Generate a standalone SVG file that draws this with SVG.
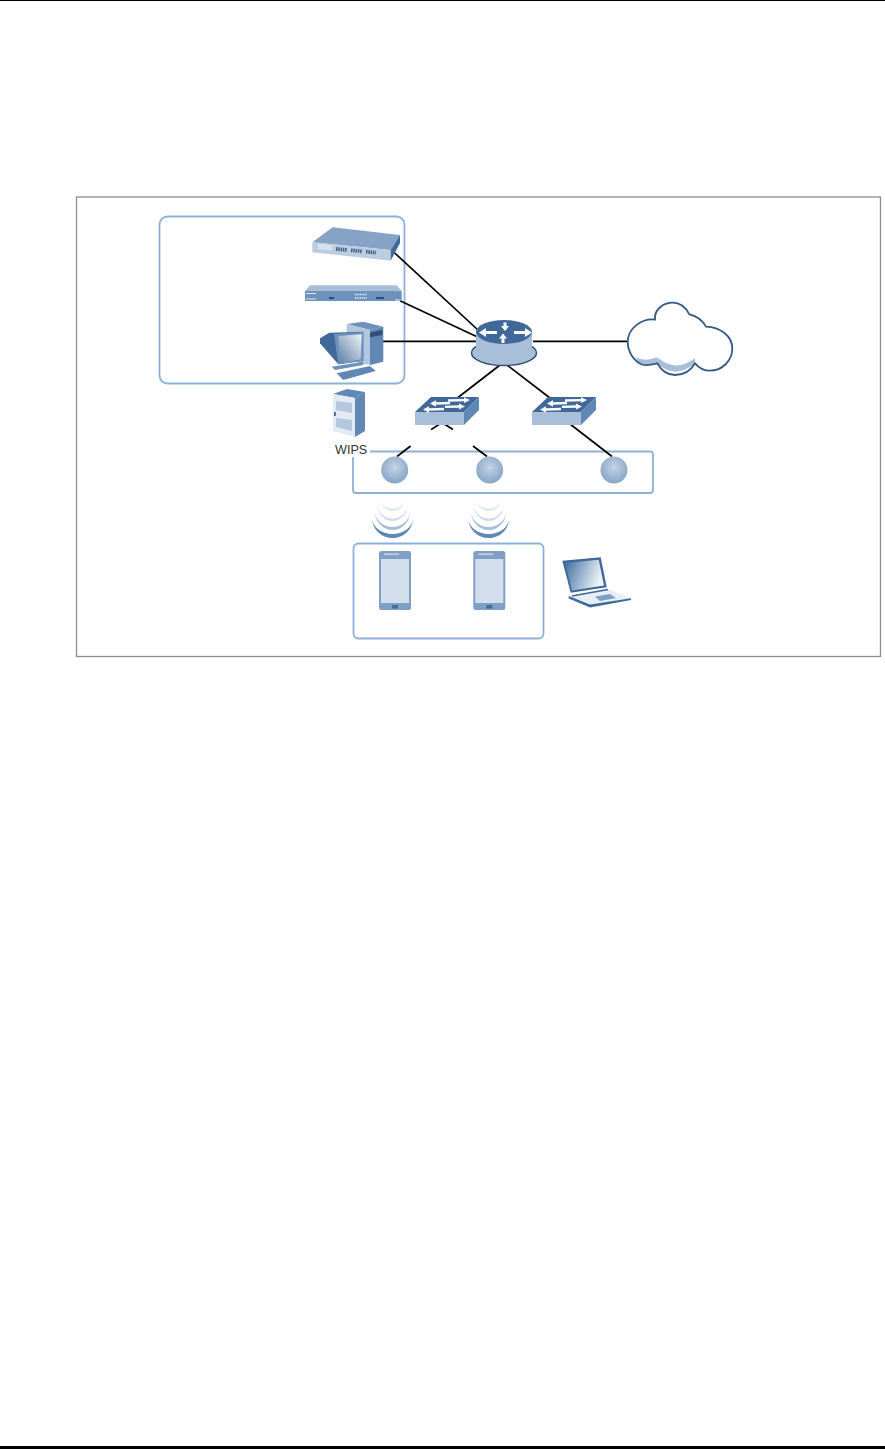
<svg xmlns="http://www.w3.org/2000/svg" width="885" height="1449" viewBox="0 0 885 1449">
<style>
.grp{fill:none;stroke:#8db0d9;stroke-width:1.800}
.lnk{stroke:#000;stroke-width:1.700;fill:none}
.d{fill:#41699a}.m{fill:#5f88b5}.l{fill:#a9bfd9}
.ph{fill:#7f9fc4}.sc{fill:#d3deec}
.ic{filter:url(#soft)}
</style>
<defs>
<filter id="soft" x="-5%" y="-5%" width="110%" height="110%"><feGaussianBlur stdDeviation="0.4"/></filter>
<linearGradient id="scr" x1="0" y1="1" x2="1" y2="0"><stop offset="0" stop-color="#5d7fa6"/><stop offset="1" stop-color="#eef3f8"/></linearGradient>
<linearGradient id="lap" x1="0" y1="0" x2="1" y2="0.3"><stop offset="0" stop-color="#3f6c9e"/><stop offset="1" stop-color="#eef3f8"/></linearGradient>
<radialGradient id="ball" cx="0.5" cy="0.4" r="0.6"><stop offset="0" stop-color="#c3d2e3"/><stop offset="1" stop-color="#86a5c6"/></radialGradient>
<g id="wifi" fill="#5f88b5">
<path d="M-12 -30A12 11 0 0 0 12 -30A12 8.500 0 0 1 -12 -30Z" opacity=".18"/>
<path d="M-15.500 -27A15.500 18 0 0 0 15.500 -27A15.500 15.500 0 0 1 -15.500 -27Z" opacity=".3"/>
<path d="M-18 -20A18 20 0 0 0 18 -20A18 17 0 0 1 -18 -20Z" opacity=".55"/>
<path d="M-20.500 -12A20.500 20 0 0 0 20.500 -12A20.500 16 0 0 1 -20.500 -12Z"/>
</g>
<g id="phone">
<rect width="32" height="59" rx="2.500" class="ph"/>
<rect x="2" y="8" width="28" height="44" class="sc"/>
<rect x="13" y="54" width="6" height="3.500" fill="#3f6c9e"/>
<rect x="5" y="2.500" width="15" height="1.300" fill="#d3deec"/>
</g>
<g id="ap"><circle r="13.500" fill="url(#ball)"/><circle cy="-2" r="0.800" fill="#e8eef5"/></g>
<g id="sw">
<polygon points="0,15 16,0 64,0 49,15" class="d"/>
<rect y="15" width="49" height="13" class="l"/>
<polygon points="49,15 64,0 64,13 49,28" class="m"/>
<g fill="#fff">
<polygon points="15,6.500 21,3.300 21,5.300 35,4.800 35,7.200 21,7.700 21,9.700"/>
<polygon points="55,3 49,0.200 49,1.900 33,2.300 33,4.700 49,4.300 49,6.100"/>
<polygon points="8,12.500 14,9.300 14,11.300 29,10.800 29,13.200 14,13.700 14,15.700"/>
<polygon points="50,9.500 44,6.500 44,8.300 30,8.700 30,11.100 44,10.700 44,12.500"/>
</g>
</g>
</defs>
<rect width="885" height="1449" fill="#fff"/>
<rect x="0" y="0" width="885" height="1" fill="#000"/>
<rect x="0" y="1446" width="885" height="3" fill="#000"/>
<rect id="frame" x="76.500" y="197" width="804" height="459.500" fill="none" stroke="#8f8f8f" stroke-width="1.300"/>

<g id="group-boxes">
<rect class="grp" x="159.500" y="216.500" width="245" height="167" rx="8"/>
<path class="grp" d="M370 451.500H650a3 3 0 0 1 3 3V490a3 3 0 0 1 -3 3H356a3 3 0 0 1 -3 -3V457"/>
<rect class="grp" x="353.500" y="543.500" width="190" height="95" rx="5"/>
</g>

<g id="connectors">
<path class="lnk" d="M391.500 250L478 330"/>
<path class="lnk" d="M400 300.700L477 336.700"/>
<path class="lnk" d="M383 341.300H477"/>
<path class="lnk" d="M533 341.300H628"/>
<path class="lnk" d="M500 365L458 397.500"/>
<path class="lnk" d="M507 365L550 398"/>
<path class="lnk" d="M570 424L612 456.500"/>
<path class="lnk" d="M431 429.600L439 424.500"/>
<path class="lnk" d="M445 424.500L453 429.500"/>
<path class="lnk" d="M410.600 446L397 456.500"/>
<path class="lnk" d="M473 446L487 456.500"/>
</g>

<g id="switch-a" class="ic">
<polygon points="312.300,242.300 332.700,227.300 400,235 390.700,250" fill="#86a3c6"/>
<polygon points="312.300,242.300 390.700,250 390.700,260.700 312.300,252.300" fill="#bccde0"/>
<polygon points="390.700,250 400,235 400,243 390.700,260.700" fill="#41699a"/>
<path d="M336 249l11 1M351 250.300l11 1M366 251.700l10 1" stroke="#3f5f88" stroke-width="3.800" stroke-dasharray="1.500 .8" fill="none"/>
<path d="M318 246.500l14 1.300" stroke="#d9e3ef" stroke-width="5" fill="none"/>
</g>
<g id="switch-b" class="ic">
<polygon points="305,291 310,285.300 396.700,285.300 401.700,291" fill="#a9bfd9"/>
<rect x="305" y="291" width="96.700" height="10" fill="#6d92bb"/>
<path d="M355 294.500h12M355 298h12" stroke="#dfe8f2" stroke-width="1.600" stroke-dasharray="1.500 .8"/>
<path d="M329 298h5M376 298h8" stroke="#2f4f78" stroke-width="2"/>
<path d="M306 293.500h10M306 299h10M395 300h5" stroke="#dfe8f2" stroke-width="1"/>
</g>
<g id="pc" class="ic">
<polygon points="346.700,324 363.300,321.700 383.300,326.700 370,330" fill="#6d92bb"/>
<polygon points="346.700,324 370,330 370,365 346.700,360" fill="#b4c7de"/>
<polygon points="370,330 383.300,326.700 383.300,361.700 370,365" fill="#5f88b5"/>
<polygon points="370,332.700 382.300,330 382.300,335 370,337.300" fill="#2f4f78"/>
<polygon points="320,338.300 329.300,332.700 363.300,331.700 363.300,360.700 338.300,364.300 320,343.300" fill="#41699a"/>
<polygon points="334,334 363.300,332 363.300,361 338.300,364.300" fill="#6d92bb"/>
<polygon points="338.300,336 361.700,334.300 360.700,359.300 340,363.300" fill="url(#scr)"/>
<polygon points="331.700,366.700 363.300,361.700 363.300,365 335,370" fill="#6d92bb"/>
<polygon points="336.700,373.300 370,366 375.700,371 343.300,380" fill="#5f88b5"/>
</g>
<g id="wips" class="ic">
<polygon points="333,394 347,389 365,392 355,398" fill="#5f88b5"/>
<polygon points="333,394 355,398 355,437 333,431" fill="#e3eaf3"/>
<polygon points="355,398 365,392 365,431 355,437" fill="#5f88b5"/>
<polygon points="336,401 352,403 352,413 336,410" fill="#b4c7de"/>
<polygon points="336,418 352,420 352,431 336,427" fill="#b4c7de"/>
<rect x="334" y="412" width="1.800" height="4" fill="#41699a"/>
</g>
<text id="wips-label" x="335" y="453.500" font-family="'Liberation Sans',Arial,sans-serif" font-size="12.600" fill="#333">WIPS</text>
<g id="router" class="ic">
<ellipse cx="504" cy="353" rx="32.500" ry="12.500" fill="#a9bfd9" stroke="#2f5077" stroke-width="1.500"/>
<path d="M476 332V351Q504 362 532 351V332Z" fill="#a9bfd9"/>
<ellipse cx="504" cy="332" rx="28" ry="12" fill="#41699a"/>
<g fill="#fff">
<polygon points="479,332.500 486,328 486,331 497,331 497,334 486,334 486,337"/>
<polygon points="532,332.500 525,328 525,331 514,331 514,334 525,334 525,337"/>
<polygon points="505,331 501,326 503.500,326 503.500,322.500 506.500,322.500 506.500,326 509,326"/>
<polygon points="503,333.500 499,338.500 501.500,338.500 501.500,343 504.500,343 504.500,338.500 507,338.500"/>
</g>
</g>
<g id="internet-cloud" class="ic">
<path d="M635 357.300Q645 362 657.300 357.300L657.300 363.300Q645 366 640 363.500Z" fill="#a9bfd9"/>
<path d="M657.300 357.300Q675 373 695 358.300L695 363.300Q675 380 657.300 363.300Z" fill="#a9bfd9"/>
<path d="M627.700 341.700C628 328 642 318 655 319.500C654 310 663 302.700 672.700 302.700C680 302.700 686 308 689.300 314.300C697 316 703 321 706 326.700C720 327 732.300 336 732.300 348.300C732.300 361 722 370.700 710 370.700C704 370.700 699 368 695 363.300C690 372 682 375 675 375C667 375 661 370 657.300 363.300C651 365 645 365.500 642 364.500C634 361 627.700 352 627.700 341.700Z" fill="none" stroke="#355a83" stroke-width="1.800"/>
</g>
<g id="switch-1" class="ic"><use href="#sw" x="415" y="397"/></g>
<g id="switch-2" class="ic"><use href="#sw" x="532" y="397"/></g>
<g id="ap-1" class="ic"><use href="#ap" x="394.700" y="470"/></g>
<g id="ap-2" class="ic"><use href="#ap" x="489.700" y="470"/></g>
<g id="ap-3" class="ic"><use href="#ap" x="614" y="470"/></g>
<g id="wifi-1" class="ic"><use href="#wifi" x="392.500" y="530"/></g>
<g id="wifi-2" class="ic"><use href="#wifi" x="488.700" y="530"/></g>
<g id="phone-1" class="ic"><use href="#phone" x="379" y="551"/></g>
<g id="phone-2" class="ic"><use href="#phone" x="473.300" y="551"/></g>
<g id="laptop" class="ic">
<polygon points="562.300,560.700 600.700,557.300 606.700,587.300 570.700,592.700" fill="#41699a"/>
<polygon points="565,563 598.700,559.700 604,585.500 572,590.500" fill="url(#lap)"/>
<polygon points="568.700,596 606.700,588.300 631,598.300 590,604.500" fill="#e8eef5"/>
<polygon points="568.700,596 590,604.500 631,598.300 631,600 590,607.500 568.700,598.500" fill="#41699a"/>
<polygon points="595,596.500 610,594 616,598 600,601" fill="#7f9fc4"/>
<path d="M572 596L608 589.500" stroke="#41699a" stroke-width="1.500"/>
</g>
</svg>
